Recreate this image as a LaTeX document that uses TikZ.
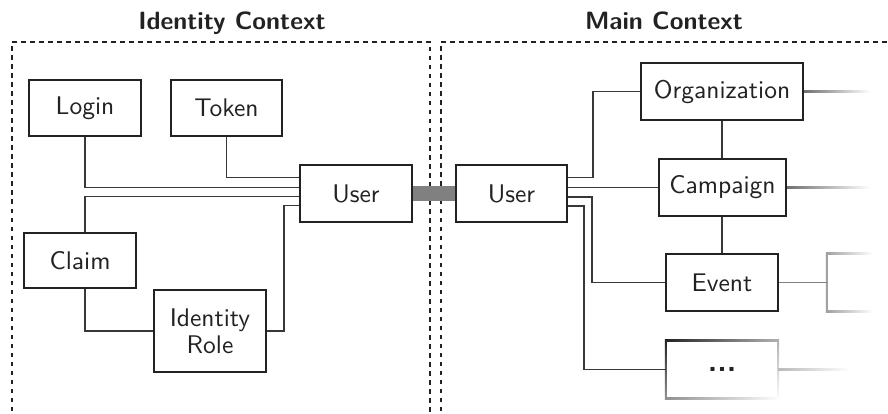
\documentclass[tikz,border=0pt]{standalone}
\usepackage{fontspec}
\newfontfamily\labelfont{lmsans10-regular.otf}[BoldFont=lmsans10-bold.otf]
\usetikzlibrary{calc,shadings}
\definecolor{ink}{HTML}{222222}
\definecolor{wirec}{HTML}{383838}
\definecolor{stubc}{HTML}{707070}
\definecolor{barc}{HTML}{808080}
\pgfdeclarelayer{bg}
\pgfsetlayers{bg,main}
\begin{document}
\begin{tikzpicture}[x=1pt,y=-1pt,
  entity/.style={draw=ink, line width=2pt, fill=white, text=ink,
    font=\labelfont\fontsize{25.5}{27}\selectfont, inner sep=0pt, align=center},
  ghostbox/.style={inner sep=0pt, text=ink, font=\labelfont\bfseries\fontsize{31}{31}\selectfont},
  wire/.style={draw=wirec, line width=1.3pt},
  frame/.style={draw=ink, line width=2pt, dash pattern=on 4.5pt off 4.5pt},
  title/.style={font=\sffamily\bfseries\fontsize{25}{30}\selectfont, text=ink, anchor=base}]
\useasboundingbox (0,0) rectangle (888,414);

% context frames
\draw[frame] (12,420) -- (12,42) -- (430,42) -- (430,420);
\draw[frame] (441,420) -- (441,42) -- (892,42);
\node[title] (tid) at (232,30) {Identity Context};
\node[title] (tmain) at (664,30) {Main Context};

% identity context
\node[entity, minimum width=112pt, minimum height=56pt] (login) at (85,108) {Login};
\node[entity, minimum width=111pt, minimum height=56pt] (token) at (226.5,108) {Token};
\node[entity, minimum width=112pt, minimum height=57pt] (userl) at (356,193.5) {User};
\node[entity, minimum width=112pt, minimum height=55pt] (claim) at (80,260.5) {Claim};
\node[entity, minimum width=112pt, minimum height=82pt] (role) at (210,331) {Identity\\Role};

\draw[wire] (token.south) |- ([yshift=16pt]userl.west);
\draw[wire] (login.south) |- ([yshift=6pt]userl.west);
\draw[wire] ([xshift=5pt]claim.north) |- ([yshift=-3pt]userl.west);
\draw[wire] ([xshift=5pt]claim.south) |- (role.west);
\draw[wire] (role.east) -- ++(17,0) |- ([yshift=-12pt]userl.west);

% main context
\node[entity, minimum width=111pt, minimum height=57pt] (userr) at (511.5,193.5) {User};
\node[entity, minimum width=162pt, minimum height=57pt] (org) at (722,91.5) {Organization};
\node[entity, minimum width=127pt, minimum height=57pt] (camp) at (722.5,187.5) {Campaign};
\node[entity, minimum width=112pt, minimum height=57pt] (event) at (722,282.5) {Event};
\node[ghostbox, minimum width=112pt, minimum height=57pt] (more) at (722,369.5) {...};
\node[inner sep=0pt, minimum width=45pt, minimum height=57pt] (ghost) at (849.5,282.5) {};

\coordinate (orgend) at (870,91.5);
\coordinate (campend) at (870,187.5);
\coordinate (moreend) at (850,369.5);

\begin{pgfonlayer}{bg}
  % fading frames of the open-ended boxes
  \shade[upper left=ink, upper right=gray!60, lower left=gray!85, lower right=white]
    ([shift={(-1pt,1pt)}]more.north west) rectangle ([shift={(1pt,-1pt)}]more.south east);
  \fill[white] ([shift={(1pt,-1pt)}]more.north west) rectangle ([shift={(-1pt,1pt)}]more.south east);
  \shade[left color=gray!75, right color=white]
    ([shift={(-1pt,1pt)}]ghost.north west) rectangle ([shift={(1pt,-1pt)}]ghost.south east);
  \fill[white] ([shift={(1pt,-1pt)}]ghost.north west) rectangle ([shift={(1pt,1pt)}]ghost.south east);
\end{pgfonlayer}

\draw[wire] ([yshift=16pt]userr.east) -- ++(25,0) |- (org.west);
\draw[wire] (camp.west) -- (camp.west -| userr.east);
\draw[wire] ([yshift=-3.5pt]userr.east) -- ++(24,0) |- (event.west);
\draw[wire] ([yshift=-12.5pt]userr.east) -- ++(16,0) |- (more.west);
\draw[wire] (org.south) -- (org.south |- camp.north);
\draw[wire] (camp.south -| event.north) -- (event.north);
\draw[wire, draw=gray] (event.east) -- (ghost.west);

% fading stubs to the right
\shade[left color=stubc, right color=white] ([yshift=-0.55pt]org.east) rectangle ([yshift=0.55pt]orgend);
\shade[left color=stubc, right color=white] ([yshift=-0.55pt]camp.east) rectangle ([yshift=0.55pt]campend);
\shade[left color=gray!55, right color=white] ([yshift=-0.55pt]more.east) rectangle ([yshift=0.55pt]moreend);

% link between the two User entities
\draw[barc, line width=15pt] (userl.east) -- (userr.west);
\end{tikzpicture}
\end{document}
